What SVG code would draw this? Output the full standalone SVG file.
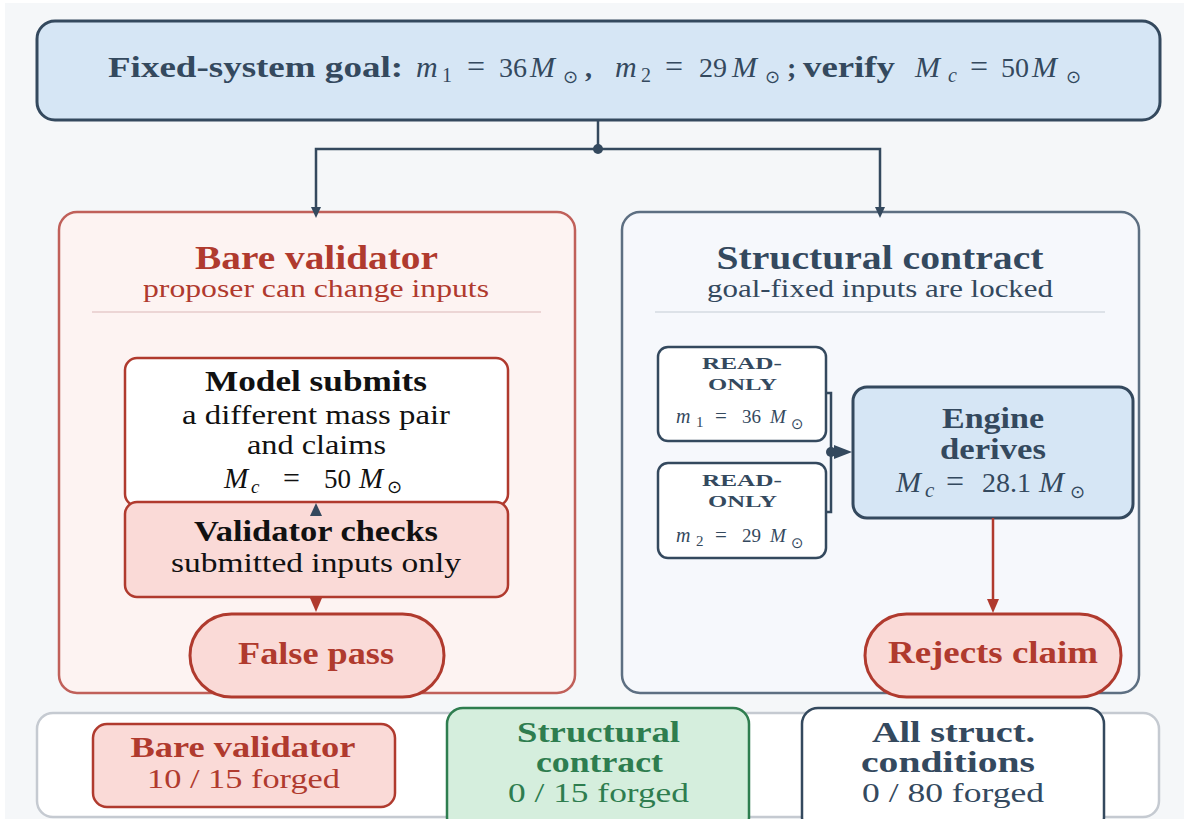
<svg xmlns="http://www.w3.org/2000/svg" width="1184" height="819" viewBox="0 0 1184 819">
<defs>
<style>
text{font-family:"Liberation Serif","DejaVu Serif",serif;text-anchor:middle}
.s{text-anchor:start}
.b{font-weight:bold}
.i{font-style:italic}
.sun{font-family:"DejaVu Sans","Noto Sans",sans-serif;font-style:normal;font-weight:normal}
.navy{fill:#34495e}
.red{fill:#b03a2e}
.blk{fill:#111}
.grn{fill:#2e7d4f}
</style>
</defs>
<rect x="0" y="0" width="1184" height="819" fill="#ffffff"/>
<rect x="5" y="3" width="1179" height="816" fill="#f5f7f9"/>

<g id="goal">
<rect x="37" y="21" width="1123" height="99" rx="18" fill="#d6e6f5" stroke="#34495e" stroke-width="3"/>
<text x="108" y="77" font-size="29" class="s b navy" textLength="295" lengthAdjust="spacingAndGlyphs">Fixed-system goal:</text>
<text y="77" font-size="28" class="s navy"><tspan x="416" class="i" font-size="30">m</tspan><tspan x="442" dy="5" font-size="20">1</tspan><tspan x="467" dy="-5" font-size="32">=</tspan><tspan x="499">36</tspan><tspan x="530" class="i" font-size="30">M</tspan><tspan x="563" dy="6" font-size="18" class="sun">⊙</tspan><tspan x="585" dy="-6" class="b">,</tspan><tspan x="615" class="i" font-size="30">m</tspan><tspan x="641" dy="5" font-size="20">2</tspan><tspan x="665" dy="-5" font-size="32">=</tspan><tspan x="699">29</tspan><tspan x="732" class="i" font-size="30">M</tspan><tspan x="765" dy="6" font-size="18" class="sun">⊙</tspan><tspan x="787" dy="-6" class="b">;</tspan></text>
<text x="803" y="77" font-size="29" class="s b navy" textLength="92" lengthAdjust="spacingAndGlyphs">verify</text>
<text y="77" font-size="28" class="s navy"><tspan x="915" class="i" font-size="30">M</tspan><tspan x="948" dy="5" font-size="20" class="i">c</tspan><tspan x="970" dy="-5" font-size="32">=</tspan><tspan x="1001">50</tspan><tspan x="1032" class="i" font-size="30">M</tspan><tspan x="1066" dy="6" font-size="18" class="sun">⊙</tspan></text>
</g>

<g id="bare-panel">
<rect x="59" y="212" width="516" height="481" rx="18" fill="#fdf3f2" stroke="#c0605a" stroke-width="2.5"/>
<text x="316.5" y="269" font-size="33" class="b red" textLength="243" lengthAdjust="spacingAndGlyphs">Bare validator</text>
<text x="316" y="297" font-size="26" class="red" textLength="346" lengthAdjust="spacingAndGlyphs">proposer can change inputs</text>
<line x1="92" y1="312" x2="541" y2="312" stroke="#ecd5d5" stroke-width="2"/>
</g>

<g id="model-submits">
<rect x="125" y="358" width="383" height="148" rx="12" fill="#ffffff" stroke="#b03a2e" stroke-width="2.5"/>
<text x="316" y="391" font-size="29" class="b blk" textLength="222" lengthAdjust="spacingAndGlyphs">Model submits</text>
<text x="316" y="424" font-size="28" class="blk" textLength="268" lengthAdjust="spacingAndGlyphs">a different mass pair</text>
<text x="316.5" y="454" font-size="27" class="blk" textLength="139" lengthAdjust="spacingAndGlyphs">and claims</text>
<text y="488" font-size="27" class="s blk"><tspan x="224" class="i" font-size="29">M</tspan><tspan x="251" dy="5" font-size="19" class="i">c</tspan><tspan x="283" dy="-5" font-size="30">=</tspan><tspan x="324">50</tspan><tspan x="359" class="i" font-size="29">M</tspan><tspan x="387" dy="5" font-size="18" class="sun">⊙</tspan></text>
</g>

<g id="validator-checks">
<rect x="125" y="502" width="383" height="95" rx="12" fill="#fadad7" stroke="#b03a2e" stroke-width="2.5"/>
<text x="316" y="541" font-size="29" class="b blk" textLength="244" lengthAdjust="spacingAndGlyphs">Validator checks</text>
<text x="316" y="572" font-size="28" class="blk" textLength="290" lengthAdjust="spacingAndGlyphs">submitted inputs only</text>
</g>

<g id="false-pass">
<rect x="190" y="614" width="254" height="83" rx="41.5" fill="#fadad7" stroke="#b03a2e" stroke-width="3"/>
<text x="316" y="664" font-size="31" class="b red" textLength="156" lengthAdjust="spacingAndGlyphs">False pass</text>
</g>

<g id="structural-panel">
<rect x="622" y="212" width="517" height="481" rx="18" fill="#f6f8fc" stroke="#5d6f82" stroke-width="2.5"/>
<text x="880" y="269" font-size="33" class="b navy" textLength="327" lengthAdjust="spacingAndGlyphs">Structural contract</text>
<text x="880" y="297" font-size="26" class="navy" textLength="346" lengthAdjust="spacingAndGlyphs">goal-fixed inputs are locked</text>
<line x1="655" y1="312" x2="1105" y2="312" stroke="#dde2e8" stroke-width="2"/>
</g>

<g id="readonly-m1">
<rect x="658" y="347" width="168" height="94" rx="10" fill="#ffffff" stroke="#34495e" stroke-width="2.5"/>
<text x="742" y="369" font-size="17" class="b navy" textLength="80" lengthAdjust="spacingAndGlyphs">READ-</text>
<text x="742.5" y="390" font-size="17" class="b navy" textLength="69" lengthAdjust="spacingAndGlyphs">ONLY</text>
<text y="423" font-size="19" class="s navy"><tspan x="676" class="i" font-size="20">m</tspan><tspan x="696" dy="4" font-size="15">1</tspan><tspan x="715" dy="-4" font-size="21">=</tspan><tspan x="742">36</tspan><tspan x="770" class="i">M</tspan><tspan x="791" dy="6" font-size="15" class="sun">⊙</tspan></text>
</g>

<g id="readonly-m2">
<rect x="658" y="463" width="168" height="95" rx="10" fill="#ffffff" stroke="#34495e" stroke-width="2.5"/>
<text x="742" y="486" font-size="17" class="b navy" textLength="80" lengthAdjust="spacingAndGlyphs">READ-</text>
<text x="742.5" y="507" font-size="17" class="b navy" textLength="69" lengthAdjust="spacingAndGlyphs">ONLY</text>
<text y="542" font-size="19" class="s navy"><tspan x="676" class="i" font-size="20">m</tspan><tspan x="696" dy="4" font-size="15">2</tspan><tspan x="715" dy="-4" font-size="21">=</tspan><tspan x="742">29</tspan><tspan x="770" class="i">M</tspan><tspan x="791" dy="6" font-size="15" class="sun">⊙</tspan></text>
</g>

<g id="engine">
<rect x="853" y="387" width="280" height="131" rx="14" fill="#d6e6f5" stroke="#34495e" stroke-width="3"/>
<text x="993" y="428" font-size="30" class="b navy" textLength="102" lengthAdjust="spacingAndGlyphs">Engine</text>
<text x="993" y="459" font-size="30" class="b navy" textLength="106" lengthAdjust="spacingAndGlyphs">derives</text>
<text y="492" font-size="28" class="s navy"><tspan x="896" class="i" font-size="30">M</tspan><tspan x="925" dy="5" font-size="21" class="i">c</tspan><tspan x="946" dy="-5" font-size="32">=</tspan><tspan x="982">28.1</tspan><tspan x="1039" class="i" font-size="30">M</tspan><tspan x="1070" dy="6" font-size="18" class="sun">⊙</tspan></text>
</g>

<g id="rejects-claim">
<rect x="865" y="614" width="256" height="83" rx="41.5" fill="#fadad7" stroke="#b03a2e" stroke-width="3"/>
<text x="993" y="663" font-size="31" class="b red" textLength="210" lengthAdjust="spacingAndGlyphs">Rejects claim</text>
</g>

<g id="summary">
<rect x="37" y="713" width="1122" height="104" rx="16" fill="#ffffff" stroke="#c5cad1" stroke-width="2.5"/>
</g>

<g id="sum-bare">
<rect x="93" y="724" width="302" height="83" rx="14" fill="#fadad7" stroke="#b03a2e" stroke-width="2.5"/>
<text x="243" y="757" font-size="29" class="b red" textLength="225" lengthAdjust="spacingAndGlyphs">Bare validator</text>
<text x="243.5" y="788" font-size="28" class="red" textLength="193" lengthAdjust="spacingAndGlyphs">10 / 15 forged</text>
</g>

<g id="sum-structural">
<rect x="447" y="708" width="302" height="125" rx="16" fill="#d5eedd" stroke="#2e7d4f" stroke-width="2.5"/>
<text x="598.5" y="742" font-size="29" class="b grn" textLength="163" lengthAdjust="spacingAndGlyphs">Structural</text>
<text x="599.5" y="772" font-size="29" class="b grn" textLength="127" lengthAdjust="spacingAndGlyphs">contract</text>
<text x="598.5" y="802" font-size="28" class="grn" textLength="181" lengthAdjust="spacingAndGlyphs">0 / 15 forged</text>
</g>

<g id="sum-all">
<rect x="802" y="708" width="302" height="125" rx="16" fill="#ffffff" stroke="#34495e" stroke-width="2.5"/>
<text x="953.5" y="742" font-size="29" class="b navy" textLength="163" lengthAdjust="spacingAndGlyphs">All struct.</text>
<text x="948" y="772" font-size="29" class="b navy" textLength="174" lengthAdjust="spacingAndGlyphs">conditions</text>
<text x="953" y="802" font-size="28" class="navy" textLength="182" lengthAdjust="spacingAndGlyphs">0 / 80 forged</text>
</g>

<g id="connectors">
<line x1="598" y1="120" x2="598" y2="149" stroke="#34495e" stroke-width="2.5"/>
<polyline points="316,208 316,149 880,149 880,208" fill="none" stroke="#34495e" stroke-width="2.5"/>
<circle cx="598" cy="149" r="5" fill="#34495e"/>
<polygon points="311,207 321,207 316,218" fill="#34495e"/>
<polygon points="875,207 885,207 880,218" fill="#34495e"/>
<polygon points="310,516 322,516 316,503" fill="#34495e"/>
<polygon points="310,598 322,598 316,612" fill="#b03a2e"/>
<path d="M826,393 H831 V512 H826" fill="none" stroke="#34495e" stroke-width="2.5"/>
<circle cx="831" cy="452" r="5" fill="#34495e"/>
<polygon points="834,445 852,452 834,459" fill="#34495e"/>
<line x1="993" y1="518" x2="993" y2="600" stroke="#b03a2e" stroke-width="2.5"/>
<polygon points="987,599 999,599 993,613" fill="#b03a2e"/>
</g>
</svg>
